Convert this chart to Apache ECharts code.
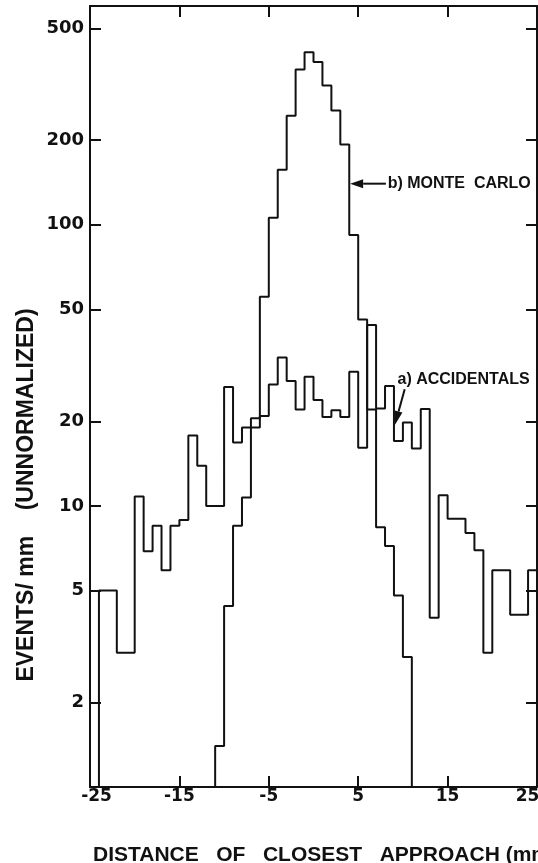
<!DOCTYPE html>
<html>
    <head>
    <title>Distance of closest approach</title>
    <meta charset="UTF-8">
    <script src="https://cdn.jsdelivr.net/npm/echarts@6.0.0/dist/echarts.min.js"></script>
    <style>
        html, body { margin: 0; padding: 0; background: #fff; }
        #main { width: 538px; height: 863px; }
    </style>
    </head>
    <body>

    <div id="main"></div>

    <script type="text/javascript">

      // 1 mm bins, each list starts at its first left edge (mm)
      var accStart = -24;
      var accidentals = [5.0, 5.0, 3.0, 3.0, 10.8, 6.9, 8.5, 5.9, 8.5, 8.9,
                         17.8, 13.9, 10.0, 10.0, 26.5, 16.8, 19.0, 19.0, 20.9, 27.0,
                         33.7, 27.8, 22.0, 28.8, 23.8, 20.7, 21.9, 20.7, 30.0, 16.1,
                         44.0, 22.2, 26.7, 17.0, 19.8, 16.0, 22.1, 4.0, 10.9, 9.0,
                         9.0, 8.0, 6.95, 3.0, 5.9, 5.9, 4.1, 4.1, 5.9];

      var mcStart = -11;
      var monteCarlo = [1.4, 4.4, 8.5, 10.7, 20.5, 55.5, 106, 157, 244, 357,
                        411, 379, 313, 255, 193, 92, 46, 22, 8.4, 7.2,
                        4.8, 2.9];

      var xTicks = [-15, -5, 5, 15];
      var xLabels = [-25, -15, -5, 5, 15, 25];
      var yTicks = [2, 5, 10, 20, 50, 100, 200, 500];
      var xMin = -25, xMax = 25;
      var yMin = 1, yMax = 600;

      var ink = '#111';
      var labelFont = '"DejaVu Sans", sans-serif';
      var titleFont = '"Liberation Sans", Arial, sans-serif';

      // histogram outline as step points, rising from the axis floor
      function steps(start, vals, dropAtEnd) {
          var pts = [[start, yMin]];
          for (var i = 0; i < vals.length; i++) {
              pts.push([start + i, vals[i]]);
          }
          pts.push([start + vals.length, dropAtEnd ? yMin : vals[vals.length - 1]]);
          return pts;
      }

      function histSeries(name, data) {
          return {
              name: name,
              type: 'line',
              step: 'end',
              data: data,
              showSymbol: false,
              silent: true,
              lineStyle: { color: ink, width: 2 },
              z: 3
          };
      }

      var axisLineStyle = { color: ink, width: 2 };

      var option = {
          animation: false,
          backgroundColor: '#fff',
          grid: { left: 90, right: 1, top: 6, bottom: 76, containLabel: false, outerBoundsMode: 'none' },
          xAxis: [{
              type: 'value',
              position: 'bottom',
              min: xMin,
              max: xMax,
              axisLine: { show: true, onZero: false, lineStyle: axisLineStyle },
              axisTick: { show: true, inside: true, length: 11, customValues: xTicks, lineStyle: axisLineStyle },
              splitLine: { show: false },
              axisLabel: {
                  show: true,
                  customValues: xLabels,
                  margin: 1,
                  hideOverlap: false,
                  formatter: function (v) {
                      if (v === xMin) return '{l|' + v + '}';
                      if (v === xMax) return '{r|' + v + '}';
                      return '{n|' + v + '}';
                  },
                  rich: {
                      n: { fontFamily: labelFont, fontWeight: 'bold', fontSize: 17, color: ink, lineHeight: 18 },
                      l: { fontFamily: labelFont, fontWeight: 'bold', fontSize: 17, color: ink, lineHeight: 18, padding: [0, 0, 0, 13] },
                      r: { fontFamily: labelFont, fontWeight: 'bold', fontSize: 17, color: ink, lineHeight: 18, padding: [0, 19, 0, 0] }
                  }
              }
          }, {
              type: 'value',
              position: 'top',
              min: xMin,
              max: xMax,
              axisLine: { show: true, onZero: false, lineStyle: axisLineStyle },
              axisTick: { show: true, inside: true, length: 11, customValues: xTicks, lineStyle: axisLineStyle },
              splitLine: { show: false },
              axisLabel: { show: false }
          }],
          yAxis: [{
              type: 'log',
              logBase: 10,
              position: 'left',
              min: yMin,
              max: yMax,
              axisLine: { show: true, onZero: false, lineStyle: axisLineStyle },
              axisTick: { show: true, inside: true, length: 11, customValues: yTicks, lineStyle: axisLineStyle },
              splitLine: { show: false },
              axisLabel: {
                  show: true,
                  customValues: yTicks,
                  margin: 6,
                  fontFamily: labelFont,
                  fontWeight: 'bold',
                  fontSize: 18,
                  color: ink
              }
          }, {
              type: 'log',
              logBase: 10,
              position: 'right',
              min: yMin,
              max: yMax,
              axisLine: { show: true, onZero: false, lineStyle: axisLineStyle },
              axisTick: { show: true, inside: true, length: 11, customValues: yTicks, lineStyle: axisLineStyle },
              splitLine: { show: false },
              axisLabel: { show: false }
          }],
          series: [
              histSeries('a) ACCIDENTALS', steps(accStart, accidentals, false)),
              histSeries('b) MONTE CARLO', steps(mcStart, monteCarlo, true))
          ]
      };

      var myChart = echarts.init(document.getElementById('main'), null, { renderer: 'canvas' });
      myChart.setOption(option);

      // annotations: arrows drawn from data positions
      function px(x, y) {
          return myChart.convertToPixel({ gridIndex: 0 }, [x, y]);
      }

      function arrow(tail, tip, len, half) {
          var dx = tip[0] - tail[0], dy = tip[1] - tail[1];
          var d = Math.sqrt(dx * dx + dy * dy);
          var ux = dx / d, uy = dy / d;
          var bx = tip[0] - ux * len, by = tip[1] - uy * len;
          return [{
              type: 'line',
              shape: { x1: tail[0], y1: tail[1], x2: bx, y2: by },
              style: { stroke: ink, lineWidth: 2 }
          }, {
              type: 'polygon',
              shape: { points: [tip, [bx - uy * half, by + ux * half], [bx + uy * half, by - ux * half]] },
              style: { fill: ink }
          }];
      }

      var mcTip = px(4.1, 140), mcTail = px(8.1, 140), mcText = px(8.3, 140);
      var accTip = px(9.1, 19.4), accTail = px(10.2, 26), accText = px(9.4, 28.2);

      var graphics = [];
      graphics = graphics.concat(arrow(mcTail, mcTip, 13, 4.5));
      graphics = graphics.concat(arrow(accTail, accTip, 14, 4));
      graphics.push({
          type: 'text', x: mcText[0], y: mcText[1],
          style: { text: 'b) MONTE  CARLO', fill: ink, font: 'bold 16px ' + titleFont, align: 'left', verticalAlign: 'middle' }
      });
      graphics.push({
          type: 'text', x: accText[0], y: accText[1],
          style: { text: 'a) ACCIDENTALS', fill: ink, font: 'bold 16px ' + titleFont, align: 'left', verticalAlign: 'middle' }
      });
      graphics.push({
          type: 'text', x: 27, y: 495, rotation: Math.PI / 2,
          style: { text: 'EVENTS/ mm    (UNNORMALIZED)', fill: ink, font: 'bold 23px ' + titleFont, align: 'center', verticalAlign: 'middle' }
      });
      graphics.push({
          type: 'text', x: 93, y: 855,
          style: { text: 'DISTANCE   OF   CLOSEST   APPROACH (mm)', fill: ink, font: 'bold 21px ' + titleFont, align: 'left', verticalAlign: 'middle' }
      });

      myChart.setOption({ graphic: graphics });

    </script>
    </body>
</html>
